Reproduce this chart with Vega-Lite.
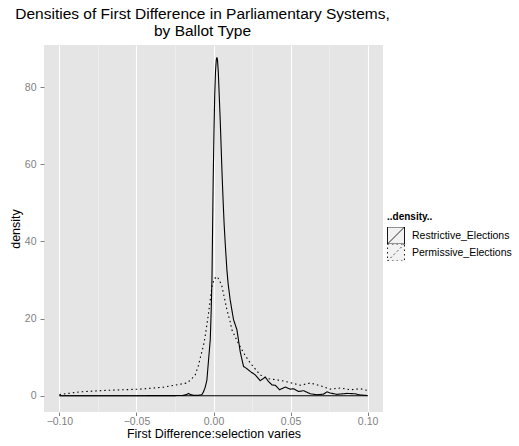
{
  "$schema": "https://vega.github.io/schema/vega-lite/v6.json",
  "width": 339,
  "height": 367,
  "autosize": {"type": "none"},
  "padding": {"left": 44, "top": 45, "right": 136, "bottom": 34},
  "background": "white",
  "title": {
    "text": ["Densities of First Difference in Parliamentary Systems,", "by Ballot Type"],
    "anchor": "middle",
    "fontSize": 15.5,
    "fontWeight": "normal",
    "color": "black",
    "lineHeight": 17,
    "offset": 6,
    "dx": -11
  },
  "data": {
    "values": [
      {"x": -0.1, "density": 0, "type": "Restrictive_Elections"},
      {"x": -0.06, "density": 0, "type": "Restrictive_Elections"},
      {"x": -0.03, "density": 0.02, "type": "Restrictive_Elections"},
      {"x": -0.02, "density": 0.05, "type": "Restrictive_Elections"},
      {"x": -0.0175, "density": 0.3, "type": "Restrictive_Elections"},
      {"x": -0.0162, "density": 0.6, "type": "Restrictive_Elections"},
      {"x": -0.015, "density": 0.3, "type": "Restrictive_Elections"},
      {"x": -0.013, "density": 0.1, "type": "Restrictive_Elections"},
      {"x": -0.01, "density": 0.1, "type": "Restrictive_Elections"},
      {"x": -0.0085, "density": 0.2, "type": "Restrictive_Elections"},
      {"x": -0.0075, "density": 0.3, "type": "Restrictive_Elections"},
      {"x": -0.0065, "density": 1.0, "type": "Restrictive_Elections"},
      {"x": -0.0054, "density": 2.2, "type": "Restrictive_Elections"},
      {"x": -0.0043, "density": 4, "type": "Restrictive_Elections"},
      {"x": -0.0032, "density": 9.3, "type": "Restrictive_Elections"},
      {"x": -0.0021, "density": 14.5, "type": "Restrictive_Elections"},
      {"x": -0.0015, "density": 22, "type": "Restrictive_Elections"},
      {"x": -0.001, "density": 30, "type": "Restrictive_Elections"},
      {"x": -0.0006, "density": 43, "type": "Restrictive_Elections"},
      {"x": -0.0002, "density": 56, "type": "Restrictive_Elections"},
      {"x": 0.0003, "density": 68, "type": "Restrictive_Elections"},
      {"x": 0.0008, "density": 78, "type": "Restrictive_Elections"},
      {"x": 0.0013, "density": 84, "type": "Restrictive_Elections"},
      {"x": 0.0018, "density": 87, "type": "Restrictive_Elections"},
      {"x": 0.0022, "density": 87.7, "type": "Restrictive_Elections"},
      {"x": 0.0026, "density": 87, "type": "Restrictive_Elections"},
      {"x": 0.0031, "density": 84, "type": "Restrictive_Elections"},
      {"x": 0.0037, "density": 78, "type": "Restrictive_Elections"},
      {"x": 0.0044, "density": 71, "type": "Restrictive_Elections"},
      {"x": 0.005, "density": 64, "type": "Restrictive_Elections"},
      {"x": 0.0056, "density": 57, "type": "Restrictive_Elections"},
      {"x": 0.0063, "density": 50, "type": "Restrictive_Elections"},
      {"x": 0.0069, "density": 44.5, "type": "Restrictive_Elections"},
      {"x": 0.0076, "density": 39.5, "type": "Restrictive_Elections"},
      {"x": 0.0087, "density": 32.6, "type": "Restrictive_Elections"},
      {"x": 0.0095, "density": 29, "type": "Restrictive_Elections"},
      {"x": 0.0108, "density": 24.9, "type": "Restrictive_Elections"},
      {"x": 0.013, "density": 19.7, "type": "Restrictive_Elections"},
      {"x": 0.0152, "density": 17.1, "type": "Restrictive_Elections"},
      {"x": 0.016, "density": 15, "type": "Restrictive_Elections"},
      {"x": 0.0173, "density": 11.5, "type": "Restrictive_Elections"},
      {"x": 0.0184, "density": 9.5, "type": "Restrictive_Elections"},
      {"x": 0.0195, "density": 7.6, "type": "Restrictive_Elections"},
      {"x": 0.0217, "density": 7.0, "type": "Restrictive_Elections"},
      {"x": 0.0238, "density": 6.3, "type": "Restrictive_Elections"},
      {"x": 0.0271, "density": 5.4, "type": "Restrictive_Elections"},
      {"x": 0.0303, "density": 3.9, "type": "Restrictive_Elections"},
      {"x": 0.0336, "density": 4.8, "type": "Restrictive_Elections"},
      {"x": 0.0355, "density": 3.8, "type": "Restrictive_Elections"},
      {"x": 0.0379, "density": 2.8, "type": "Restrictive_Elections"},
      {"x": 0.0401, "density": 2.7, "type": "Restrictive_Elections"},
      {"x": 0.0429, "density": 1.55, "type": "Restrictive_Elections"},
      {"x": 0.0466, "density": 2.25, "type": "Restrictive_Elections"},
      {"x": 0.0498, "density": 1.7, "type": "Restrictive_Elections"},
      {"x": 0.0519, "density": 1.8, "type": "Restrictive_Elections"},
      {"x": 0.0552, "density": 1.1, "type": "Restrictive_Elections"},
      {"x": 0.0584, "density": 1.3, "type": "Restrictive_Elections"},
      {"x": 0.0628, "density": 0.5, "type": "Restrictive_Elections"},
      {"x": 0.0671, "density": 0.25, "type": "Restrictive_Elections"},
      {"x": 0.0714, "density": 0.4, "type": "Restrictive_Elections"},
      {"x": 0.0736, "density": 1.0, "type": "Restrictive_Elections"},
      {"x": 0.0758, "density": 0.7, "type": "Restrictive_Elections"},
      {"x": 0.0801, "density": 0.35, "type": "Restrictive_Elections"},
      {"x": 0.0866, "density": 0.6, "type": "Restrictive_Elections"},
      {"x": 0.0921, "density": 0.5, "type": "Restrictive_Elections"},
      {"x": 0.0942, "density": 0.25, "type": "Restrictive_Elections"},
      {"x": 0.0996, "density": 0.05, "type": "Restrictive_Elections"},
      {"x": 0.1, "density": 0, "type": "Restrictive_Elections"},
      {"x": -0.1, "density": 0.3, "type": "Permissive_Elections"},
      {"x": -0.0866, "density": 1.0, "type": "Permissive_Elections"},
      {"x": -0.0692, "density": 1.4, "type": "Permissive_Elections"},
      {"x": -0.0476, "density": 1.7, "type": "Permissive_Elections"},
      {"x": -0.0325, "density": 2.2, "type": "Permissive_Elections"},
      {"x": -0.0173, "density": 3.3, "type": "Permissive_Elections"},
      {"x": -0.0145, "density": 4.2, "type": "Permissive_Elections"},
      {"x": -0.0119, "density": 5.4, "type": "Permissive_Elections"},
      {"x": -0.01, "density": 7.5, "type": "Permissive_Elections"},
      {"x": -0.0086, "density": 9.8, "type": "Permissive_Elections"},
      {"x": -0.0065, "density": 13, "type": "Permissive_Elections"},
      {"x": -0.0054, "density": 15.4, "type": "Permissive_Elections"},
      {"x": -0.0032, "density": 21.4, "type": "Permissive_Elections"},
      {"x": -0.001, "density": 28.3, "type": "Permissive_Elections"},
      {"x": 0.0005, "density": 30.3, "type": "Permissive_Elections"},
      {"x": 0.0022, "density": 30.9, "type": "Permissive_Elections"},
      {"x": 0.0038, "density": 30, "type": "Permissive_Elections"},
      {"x": 0.0055, "density": 28.3, "type": "Permissive_Elections"},
      {"x": 0.0087, "density": 22.3, "type": "Permissive_Elections"},
      {"x": 0.0108, "density": 19.2, "type": "Permissive_Elections"},
      {"x": 0.0119, "density": 17.1, "type": "Permissive_Elections"},
      {"x": 0.0162, "density": 13.5, "type": "Permissive_Elections"},
      {"x": 0.02, "density": 10.8, "type": "Permissive_Elections"},
      {"x": 0.0238, "density": 8.5, "type": "Permissive_Elections"},
      {"x": 0.0303, "density": 5.4, "type": "Permissive_Elections"},
      {"x": 0.0357, "density": 4.4, "type": "Permissive_Elections"},
      {"x": 0.0433, "density": 4.0, "type": "Permissive_Elections"},
      {"x": 0.0498, "density": 3.4, "type": "Permissive_Elections"},
      {"x": 0.0563, "density": 2.7, "type": "Permissive_Elections"},
      {"x": 0.0628, "density": 3.3, "type": "Permissive_Elections"},
      {"x": 0.0693, "density": 2.6, "type": "Permissive_Elections"},
      {"x": 0.0758, "density": 1.7, "type": "Permissive_Elections"},
      {"x": 0.0823, "density": 2.0, "type": "Permissive_Elections"},
      {"x": 0.0888, "density": 1.55, "type": "Permissive_Elections"},
      {"x": 0.0953, "density": 1.8, "type": "Permissive_Elections"},
      {"x": 0.0996, "density": 1.4, "type": "Permissive_Elections"},
      {"x": 0.1, "density": 0.8, "type": "Permissive_Elections"}
    ]
  },
  "layer": [
    {
      "mark": {"type": "rule", "stroke": "black", "strokeWidth": 1.1},
      "encoding": {
        "x": {"aggregate": "min", "field": "x", "type": "quantitative"},
        "x2": {"aggregate": "max", "field": "x"},
        "y": {"datum": 0, "type": "quantitative"}
      }
    },
    {
      "mark": {"type": "line", "stroke": "black", "strokeWidth": 1.1, "clip": true},
      "encoding": {
        "x": {
          "field": "x",
          "type": "quantitative",
          "scale": {"domain": [-0.11, 0.11], "nice": false, "zero": false},
          "axis": {
            "title": "First Difference:selection varies",
            "values": [-0.1, -0.075, -0.05, -0.025, 0, 0.025, 0.05, 0.075, 0.1],
            "labelExpr": "abs(round(datum.value*40)) % 2 == 0 ? format(datum.value, '.2f') : ''",
            "gridColor": {"condition": {"test": "abs(round(datum.value*40)) % 2 == 0", "value": "white"}, "value": "#F2F2F2"},
            "gridWidth": {"condition": {"test": "abs(round(datum.value*40)) % 2 == 0", "value": 1.1}, "value": 0.6},
            "tickColor": {"condition": {"test": "abs(round(datum.value*40)) % 2 == 0", "value": "#7F7F7F"}, "value": "transparent"}
          }
        },
        "y": {
          "field": "density",
          "type": "quantitative",
          "scale": {"domain": [-4.22, 90.9], "nice": false, "zero": false},
          "axis": {
            "title": "density",
            "values": [0, 10, 20, 30, 40, 50, 60, 70, 80, 90],
            "labelExpr": "datum.value % 20 == 0 ? datum.label : ''",
            "gridColor": {"condition": {"test": "datum.value % 20 == 0", "value": "white"}, "value": "#F2F2F2"},
            "gridWidth": {"condition": {"test": "datum.value % 20 == 0", "value": 1.1}, "value": 0.6},
            "tickColor": {"condition": {"test": "datum.value % 20 == 0", "value": "#7F7F7F"}, "value": "transparent"}
          }
        },
        "strokeDash": {
          "field": "type",
          "type": "nominal",
          "scale": {"domain": ["Restrictive_Elections", "Permissive_Elections"], "range": [[1, 0], [1.5, 3]]},
          "legend": {
            "title": "..density..",
            "orient": "none",
            "legendX": 343,
            "legendY": 167,
            "symbolType": "M-1,-1H1V1H-1Z M-1,1L1,-1",
            "symbolSize": 289,
            "symbolStrokeColor": "black",
            "symbolFillColor": "#F2F2F2",
            "symbolStrokeWidth": 0.9,
            "symbolOpacity": 1,
            "rowPadding": 0,
            "clipHeight": 17,
            "labelOffset": 7,
            "titlePadding": 5
          }
        }
      }
    }
  ],
  "config": {
    "font": "Liberation Sans",
    "view": {"fill": "#E5E5E5", "stroke": null},
    "axis": {
      "domain": false,
      "labelColor": "#7F7F7F",
      "labelFontSize": 10.5,
      "labelFont": "Liberation Sans",
      "tickSize": 4,
      "tickWidth": 1,
      "titleFontSize": 12.5,
      "titleFontWeight": "normal",
      "titleColor": "black",
      "titleFont": "Liberation Sans"
    },
    "axisX": {"titlePadding": 1, "labelPadding": 0.5, "tickSize": 3.5},
    "axisY": {"titlePadding": 2, "labelPadding": 4},
    "legend": {
      "titleFontSize": 10,
      "titleFontWeight": "bold",
      "titleColor": "black",
      "labelFontSize": 10.5,
      "labelColor": "black",
      "titleFont": "Liberation Sans",
      "labelFont": "Liberation Sans"
    }
  }
}
